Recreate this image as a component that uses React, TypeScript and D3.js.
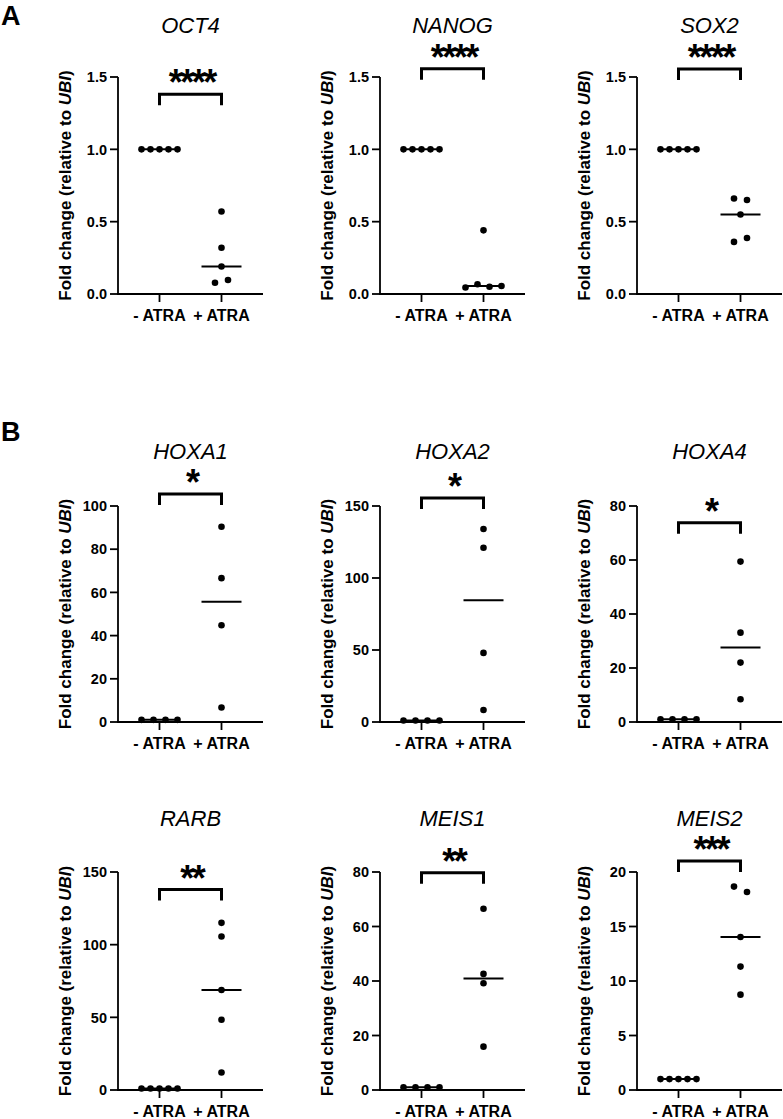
import React from "react";
import * as d3 from "d3";

// ---------- data ----------
const genes = ["OCT4", "NANOG", "SOX2", "HOXA1", "HOXA2", "HOXA4", "RARB", "MEIS1", "MEIS2"];
const groups = ["- ATRA", "+ ATRA"];

const OCT4_minus = [1, 1, 1, 1, 1];
const OCT4_plus = [0.57, 0.32, 0.19, 0.078, 0.097];
const NANOG_minus = [1, 1, 1, 1, 1];
const NANOG_plus = [0.44, 0.045, 0.067, 0.05, 0.055];
const SOX2_minus = [1, 1, 1, 1, 1];
const SOX2_plus = [0.66, 0.65, 0.55, 0.36, 0.387];
const HOXA1_minus = [1, 1, 1, 1];
const HOXA1_plus = [90.4, 66.6, 44.8, 6.7];
const HOXA2_minus = [1, 1, 1, 1];
const HOXA2_plus = [134, 121, 48, 8.3];
const HOXA4_minus = [1, 1, 1, 1];
const HOXA4_plus = [59.4, 33.1, 22, 8.4];
const RARB_minus = [1, 1, 1, 1, 1];
const RARB_plus = [115, 105.6, 68.8, 48.3, 12];
const MEIS1_minus = [1, 1, 1, 1];
const MEIS1_plus = [66.5, 42.6, 39.2, 15.9];
const MEIS2_minus = [1, 1, 1, 1, 1];
const MEIS2_plus = [18.66, 18.17, 14.04, 11.32, 8.75];

const minusValues = [OCT4_minus, NANOG_minus, SOX2_minus, HOXA1_minus, HOXA2_minus, HOXA4_minus, RARB_minus, MEIS1_minus, MEIS2_minus];
const plusValues = [OCT4_plus, NANOG_plus, SOX2_plus, HOXA1_plus, HOXA2_plus, HOXA4_plus, RARB_plus, MEIS1_plus, MEIS2_plus];

const yMax = [1.5, 1.5, 1.5, 100, 150, 80, 150, 80, 20];
const yStep = [0.5, 0.5, 0.5, 20, 50, 20, 50, 20, 5];
const significance = ["****", "****", "****", "*", "*", "*", "**", "**", "***"];
const bracketLevel = [1.38, 1.557, 1.555, 105.6, 155.6, 73.8, 138, 79.7, 21.0];

// ---------- layout ----------
const W = 783;
const H = 1119;
const colX = [118, 380, 637];
const rows = [
  { top: 77, bottom: 294, title: 25 },
  { top: 506, bottom: 722, title: 451 },
  { top: 872, bottom: 1090, title: 818 },
];
const FONT = "'Liberation Sans', Arial, Helvetica, sans-serif";
const R = 3.3;

function swarm(values: number[], xc: number, y: (v: number) => number) {
  const pts = values.map((v, i) => ({ v, i, py: y(v), px: xc }));
  const sorted = [...pts].sort((a, b) => a.py - b.py);
  const clusters: (typeof pts)[] = [];
  let cur: typeof pts = [];
  sorted.forEach((p) => {
    if (cur.length && Math.abs(p.py - cur[cur.length - 1].py) >= 7.5) {
      clusters.push(cur);
      cur = [];
    }
    cur.push(p);
  });
  if (cur.length) clusters.push(cur);
  clusters.forEach((c) => {
    c.sort((a, b) => a.i - b.i);
    const n = c.length;
    const sp = n > 1 ? Math.min(13, 36 / (n - 1)) : 0;
    c.forEach((p, k) => {
      p.px = xc + (k - (n - 1) / 2) * sp;
    });
  });
  return pts;
}

function Panel({ idx }: { idx: number }) {
  const x0 = colX[idx % 3];
  const row = rows[Math.floor(idx / 3)];
  const { top, bottom } = row;
  const x = d3.scalePoint<string>().domain(groups).range([x0 + 41.5, x0 + 103.5]);
  const y = d3.scaleLinear().domain([0, yMax[idx]]).range([bottom, top]);
  const ticks = d3.range(0, yMax[idx] + 1e-9, yStep[idx]);
  const fmt = yMax[idx] <= 2 ? d3.format(".1f") : d3.format("d");
  const series = [minusValues[idx], plusValues[idx]];
  const xL = x(groups[0]) as number;
  const xR = x(groups[1]) as number;
  const yb = y(bracketLevel[idx]);
  const mid = (xL + xR) / 2;
  const starSize = 36;
  return (
    <g>
      <text x={mid} y={row.title + 8} textAnchor="middle" fontFamily={FONT} fontStyle="italic" fontSize={22}>
        {genes[idx]}
      </text>
      {/* y axis */}
      <line x1={x0} x2={x0} y1={top} y2={bottom} stroke="#000" strokeWidth={1.8} />
      {ticks.map((t) => (
        <g key={t}>
          <line x1={x0 - 8} x2={x0} y1={y(t)} y2={y(t)} stroke="#000" strokeWidth={1.8} />
          <text x={x0 - 11} y={y(t)} dy="0.36em" textAnchor="end" fontFamily={FONT} fontWeight="bold" fontSize={14.5}>
            {fmt(t)}
          </text>
        </g>
      ))}
      {/* x axis */}
      <line x1={x0 - 0.9} x2={x0 + 145} y1={bottom} y2={bottom} stroke="#000" strokeWidth={1.8} />
      {groups.map((g) => (
        <g key={g}>
          <line x1={x(g)} x2={x(g)} y1={bottom} y2={bottom + 8} stroke="#000" strokeWidth={1.8} />
          <text x={x(g)} y={bottom + 26.5} textAnchor="middle" fontFamily={FONT} fontWeight="bold" fontSize={16}>
            {g}
          </text>
        </g>
      ))}
      {/* y label */}
      <text
        transform={`translate(${x0 - 53},${(top + bottom) / 2}) rotate(-90)`}
        textAnchor="middle"
        dy="0.36em"
        fontFamily={FONT}
        fontWeight="bold"
        fontSize={17}
      >
        Fold change (relative to <tspan fontStyle="italic">UBI</tspan>)
      </text>
      {/* points + medians */}
      {series.map((vals, gi) => {
        const xc = x(groups[gi]) as number;
        const pts = swarm(vals, xc, y);
        const med = d3.median(vals) as number;
        return (
          <g key={gi}>
            <line x1={xc - 20} x2={xc + 20} y1={y(med)} y2={y(med)} stroke="#000" strokeWidth={2} />
            {pts.map((p) => (
              <circle key={p.i} cx={p.px} cy={p.py} r={R} fill="#000" />
            ))}
          </g>
        );
      })}
      {/* significance bracket */}
      <path d={`M${xL},${yb + 11}V${yb}H${xR}V${yb + 11}`} fill="none" stroke="#000" strokeWidth={3} />
      <text
        x={mid + 1.2}
        y={yb - 15.5 + starSize * 0.46}
        textAnchor="middle"
        fontFamily={FONT}
        fontWeight="bold"
        fontSize={starSize}
        letterSpacing={-2.5}
      >
        {significance[idx]}
      </text>
    </g>
  );
}

export default function App() {
  return (
    <svg
      width={W}
      height={H}
      viewBox={`0 0 ${W} ${H}`}
      style={{ position: "absolute", left: 0, top: 0, background: "#fff" }}
    >
      <rect x={0} y={0} width={W} height={H} fill="#fff" />
      <text x={1} y={24.5} fontFamily={FONT} fontWeight="bold" fontSize={27}>A</text>
      <text x={1} y={441} fontFamily={FONT} fontWeight="bold" fontSize={27}>B</text>
      {genes.map((g, i) => (
        <Panel key={g} idx={i} />
      ))}
    </svg>
  );
}
